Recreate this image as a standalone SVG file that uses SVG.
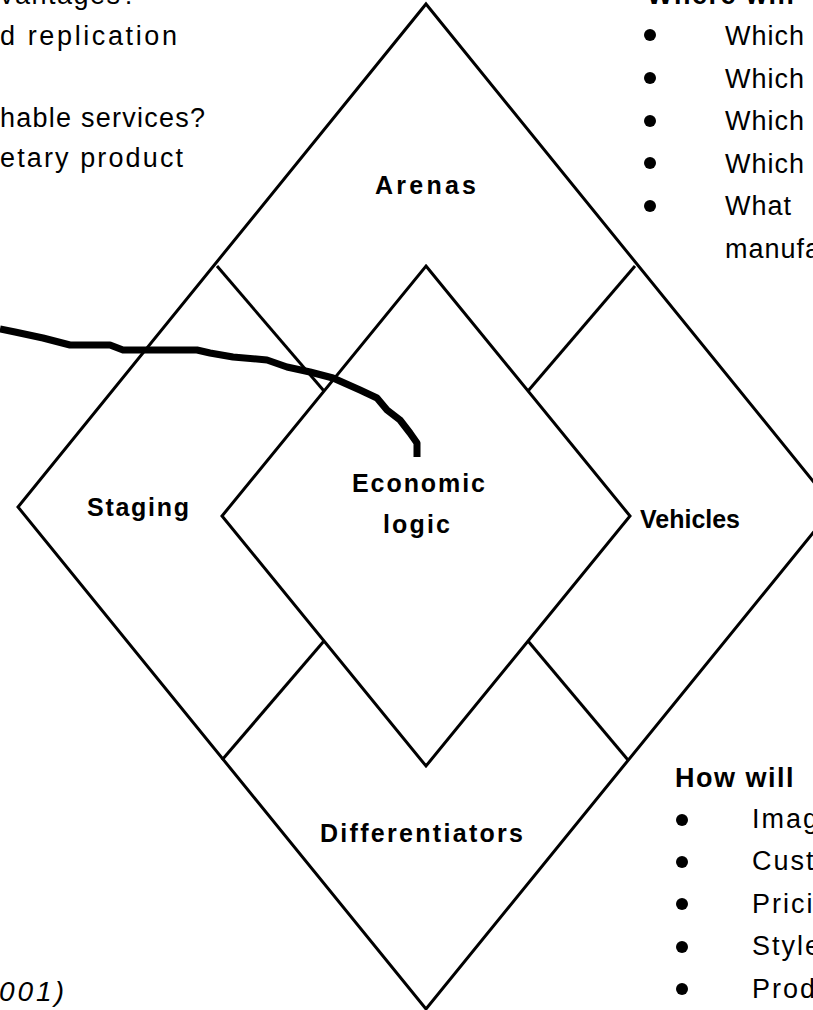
<svg xmlns="http://www.w3.org/2000/svg" width="813" height="1010" viewBox="0 0 813 1010">
<style>
.shape{fill:none;stroke:#000;stroke-width:3;stroke-linejoin:miter}
.seg{fill:none;stroke:#000;stroke-width:3}
.curve{fill:none;stroke:#000;stroke-width:7;stroke-linecap:butt;stroke-linejoin:round}
.lbl{font-family:"Liberation Sans",Arial,sans-serif;font-weight:bold;font-size:25px;fill:#000}
.txt{font-family:"Liberation Sans",Arial,sans-serif;font-size:27px;fill:#000}
.hdr{font-family:"Liberation Sans",Arial,sans-serif;font-weight:bold;font-size:27px;fill:#000}
.it{font-family:"Liberation Sans",Arial,sans-serif;font-style:italic;font-size:28px;fill:#000}
.dot{fill:#000}
</style>
<rect width="813" height="1010" fill="#fff"/>
<g id="frame">
<polygon class="shape" points="426,4 834,507 426,1009 18,507"/>
</g>
<g id="economic-logic">
<polygon class="shape" points="426,266 630,516 426,766 222,516"/>
<text class="lbl" x="352" y="492" textLength="133" lengthAdjust="spacing">Economic</text>
<text class="lbl" x="383" y="533" textLength="67" lengthAdjust="spacing">logic</text>
</g>
<g id="arenas">
<text class="lbl" x="375" y="194" textLength="101" lengthAdjust="spacing">Arenas</text>
</g>
<g id="staging">
<text class="lbl" x="87" y="516" textLength="102" lengthAdjust="spacing">Staging</text>
</g>
<g id="vehicles">
<text class="lbl" x="640" y="528" textLength="100" lengthAdjust="spacing">Vehicles</text>
</g>
<g id="differentiators">
<text class="lbl" x="320" y="842" textLength="203" lengthAdjust="spacing">Differentiators</text>
</g>
<g id="connectors">
<line class="seg" x1="324" y1="391" x2="217" y2="266"/>
<line class="seg" x1="528" y1="391" x2="635" y2="266"/>
<line class="seg" x1="324" y1="641" x2="222" y2="760"/>
<line class="seg" x1="528" y1="641" x2="628" y2="760"/>
<path class="curve" d="M0,329 L15,332 L43,338 L70,345 L110,345 L123,350 L197,350 L210,353 L233,357 L267,360 L287,367 L310,372 L333,378 L360,390 L377,398 L387,410 L400,420 L410,433 L417,443 L417,457"/>
</g>
<g id="notes-top-left">
<text class="txt" x="0" y="4" letter-spacing="1.5">vantages?</text>
<text class="txt" x="0" y="45" textLength="177" lengthAdjust="spacing">d replication</text>
<text class="txt" x="0" y="127" textLength="205" lengthAdjust="spacing">hable services?</text>
<text class="txt" x="0" y="167" textLength="183" lengthAdjust="spacing">etary product</text>
</g>
<g id="notes-top-right">
<text class="hdr" x="647" y="4" letter-spacing="1.5">Where will</text>
<circle class="dot" cx="650" cy="35" r="6"/>
<circle class="dot" cx="650" cy="78" r="6"/>
<circle class="dot" cx="650" cy="121" r="6"/>
<circle class="dot" cx="650" cy="163" r="6"/>
<circle class="dot" cx="650" cy="206" r="6"/>
<text class="txt" x="725" y="45" letter-spacing="1">Which</text>
<text class="txt" x="725" y="88" letter-spacing="1">Which</text>
<text class="txt" x="725" y="130" letter-spacing="1">Which</text>
<text class="txt" x="725" y="173" letter-spacing="1">Which</text>
<text class="txt" x="725" y="215" letter-spacing="1">What</text>
<text class="txt" x="725" y="258" letter-spacing="1">manufacturing</text>
</g>
<g id="notes-bottom-right">
<text class="hdr" x="675" y="787" letter-spacing="1.5">How will</text>
<circle class="dot" cx="682" cy="820" r="6"/>
<circle class="dot" cx="682" cy="862" r="6"/>
<circle class="dot" cx="682" cy="904" r="6"/>
<circle class="dot" cx="682" cy="947" r="6"/>
<circle class="dot" cx="682" cy="989" r="6"/>
<text class="txt" x="752" y="828" letter-spacing="2">Image</text>
<text class="txt" x="752" y="870" letter-spacing="2">Customization</text>
<text class="txt" x="752" y="913" letter-spacing="2">Pricing</text>
<text class="txt" x="752" y="955" letter-spacing="2">Style</text>
<text class="txt" x="752" y="998" letter-spacing="2">Product</text>
</g>
<g id="citation">
<text class="it" x="67" y="1001" text-anchor="end" letter-spacing="3">(2001)</text>
</g>
</svg>
